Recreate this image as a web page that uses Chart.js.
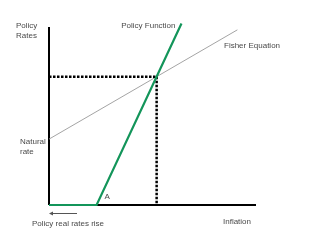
<!DOCTYPE html>
<html>
<head>
<meta charset="utf-8">
<script src="https://cdn.jsdelivr.net/npm/chart.js@4/dist/chart.umd.min.js"></script>
<style>
  html, body { margin: 0; padding: 0; background: #fff; }
  #wrap { width: 320px; height: 240px; }
</style>
</head>
<body>
<div id="wrap"><canvas id="c" width="320" height="240"></canvas></div>
<script>
// Inflation (x) and policy rate (y) in arbitrary units, 0..100 on each axis
const axisX = [0, 100];
const axisY = [0, 100];

// Fisher equation: nominal rate = natural rate + inflation
const fisherX = [0, 91];
const fisherY = [37, 98.4];

// Policy function: floor at zero, then rising steeply past point A
const policyX = [0, 23, 64];
const policyY = [0, 0, 102];

// Equilibrium where the two curves cross
const equilibriumX = 52;
const equilibriumY = 72;

const pts = (xs, ys) => xs.map((x, i) => ({ x, y: ys[i] }));

const FONT = '8px "Liberation Sans", Arial, sans-serif';
const TEXT = '#4a4a4a';

const labelPlugin = {
  id: 'diagramLabels',
  afterDraw(chart) {
    const ctx = chart.ctx;
    const xs = chart.scales.x, ys = chart.scales.y;
    ctx.save();
    ctx.font = FONT;
    ctx.fillStyle = TEXT;
    ctx.textBaseline = 'middle';

    // y-axis title
    ctx.textAlign = 'left';
    ctx.fillText('Policy', 16, 25.5);
    ctx.fillText('Rates', 16, 35.5);

    // curve names
    ctx.textAlign = 'right';
    ctx.fillText('Policy Function', xs.getPixelForValue(policyX[2]) - 6, 25.5);
    ctx.textAlign = 'left';
    ctx.fillText('Fisher Equation', 224, 45.5);

    // natural rate at the Fisher intercept
    const yNat = ys.getPixelForValue(fisherY[0]);
    ctx.fillText('Natural', 20, yNat + 2.5);
    ctx.fillText('rate', 20, yNat + 12.5);

    // kink of the policy function
    ctx.fillText('A', xs.getPixelForValue(policyX[1]) + 8, 196.5);

    // x-axis title
    ctx.fillText('Inflation', 223, 221.5);

    // arrow and caption under the axis
    ctx.fillText('Policy real rates rise', 32, 224);
    const ay = 213.5;
    ctx.strokeStyle = '#555';
    ctx.lineWidth = 1;
    ctx.beginPath();
    ctx.moveTo(50, ay);
    ctx.lineTo(77, ay);
    ctx.stroke();
    ctx.fillStyle = '#555';
    ctx.beginPath();
    ctx.moveTo(49, ay);
    ctx.lineTo(53, ay - 2);
    ctx.lineTo(53, ay + 2);
    ctx.closePath();
    ctx.fill();

    ctx.restore();
  }
};

new Chart(document.getElementById('c'), {
  type: 'scatter',
  data: {
    datasets: [
      {
        label: 'Policy Function',
        data: pts(policyX, policyY),
        showLine: true,
        borderColor: '#13955a',
        borderWidth: 2.2,
        pointRadius: 0,
        clip: false
      },
      {
        label: 'Equilibrium (horizontal)',
        data: pts([0, equilibriumX], [equilibriumY, equilibriumY]),
        showLine: true,
        borderColor: '#000',
        borderWidth: 2.5,
        borderDash: [2.5, 1.5],
        borderCapStyle: 'butt',
        pointRadius: 0,
        clip: false
      },
      {
        label: 'Equilibrium (vertical)',
        data: pts([equilibriumX, equilibriumX], [equilibriumY, 0]),
        showLine: true,
        borderColor: '#000',
        borderWidth: 2.5,
        borderDash: [2.5, 1.5],
        borderCapStyle: 'butt',
        pointRadius: 0,
        clip: false
      },
      {
        label: 'Fisher Equation',
        data: pts(fisherX, fisherY),
        showLine: true,
        borderColor: '#9a9a9a',
        borderWidth: 0.9,
        pointRadius: 0,
        clip: false
      },
      {
        label: 'x axis',
        data: pts(axisX, [0, 0]),
        showLine: true,
        borderColor: '#000',
        borderWidth: 2,
        pointRadius: 0,
        clip: false
      },
      {
        label: 'y axis',
        data: pts([0, 0], axisY),
        showLine: true,
        borderColor: '#000',
        borderWidth: 2,
        pointRadius: 0,
        clip: false
      }
    ]
  },
  options: {
    responsive: false,
    animation: false,
    devicePixelRatio: 1,
    layout: { padding: { left: 49, right: 64, top: 27, bottom: 35 } },
    scales: {
      x: { type: 'linear', min: axisX[0], max: axisX[1], display: false },
      y: { type: 'linear', min: axisY[0], max: axisY[1], display: false }
    },
    plugins: {
      legend: { display: false },
      tooltip: { enabled: false }
    }
  },
  plugins: [labelPlugin]
});
</script>
</body>
</html>
